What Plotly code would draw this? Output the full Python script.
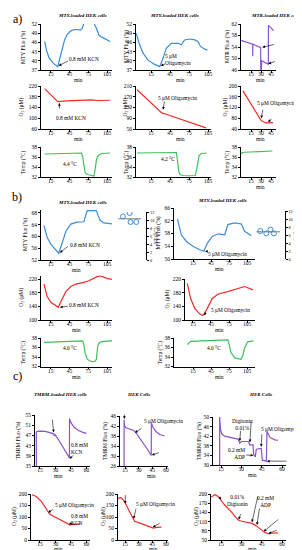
import plotly.graph_objects as go

# ===================== DATA =====================
X_TICKS_LONG = [15, 45, 75, 105]
X_TICKS_SHORT = [15, 30, 45]
X_TICKS_C = [15, 30, 45, 60]

# ---- a) row 1: fluorescence ----
A1_MIN = [5, 8, 12, 16, 20, 24, 26, 29, 33, 37, 41, 46, 52, 58, 63, 65, 68, 72, 78, 84, 88, 92, 96, 100, 105, 110]
A1_MTY = [46.3, 43.5, 41, 39.8, 39, 38.4, 38.1, 40.5, 44, 46.8, 48.5, 49.6, 50.2, 50.2, 50.1, 50.5, 52.2, 52.7, 52.6, 52.3, 50.6, 48.4, 47.8, 47.3, 46.8, 46.3]
A1_YT = [37, 40, 43, 46, 49, 52]

A2_MIN = [-8.5, -6, -3, 2.5, 10, 20, 28.7, 34, 39, 47, 57.6, 63, 68, 76, 84, 89, 93.5, 100, 104]
A2_MTY = [49, 47.2, 45.2, 42.5, 40.3, 38.9, 38.1, 40.8, 44.1, 45.7, 45.7, 45.2, 46.8, 47.1, 46.8, 46.3, 44.6, 43.8, 43.5]

A3_MIN = [0, 5, 10, 15, 17.5, 17.6, 17.7, 20, 25, 28.5, 29.5, 29.6, 30.5, 31, 35, 40, 41, 41.2, 44, 49]
A3_MTR = [56.3, 55.9, 55.5, 55.2, 55, 50.8, 55, 54.8, 54.4, 54, 53.8, 46, 46, 49.2, 48.6, 48.1, 48, 61.5, 60.8, 59.7]
A3_YT = [46, 50, 54, 58, 62]

# ---- a) row 2: O2 ----
A4_MIN = [5, 26, 40, 55, 65, 72, 80, 90, 100, 110]
A4_O2 = [210, 162, 165, 166, 167, 169, 168, 166, 167, 167]
A4_YT = [60, 100, 140, 180, 220]

A5_MIN = [-7, 5, 15, 25, 32, 40, 55, 70, 85, 102]
A5_O2 = [196, 170, 148, 126, 110, 104, 92, 80, 68, 54]
A5_YT = [50, 90, 130, 170, 210]

A6_MIN = [3, 15, 25, 30, 34, 38, 48]
A6_O2 = [182, 133, 92, 72, 66, 63, 64]
A6_YT = [40, 80, 120, 160, 200]

# ---- a) row 3: temperature ----
TEMP_YT = [32, 34, 36, 38]
A7_MIN = [5, 20, 40, 60, 64, 66, 68, 70, 74, 80, 84, 86, 88, 90, 93, 97, 103, 110]
A7_TEMP = [36.6, 36.65, 36.7, 36.75, 36.8, 36, 33.8, 32.8, 32.5, 32.3, 32.2, 33.5, 35.4, 36.1, 36.5, 36.7, 36.8, 36.8]
A8_MIN = [-7, 10, 30, 50, 55, 57, 59, 61, 65, 75, 85, 87, 89, 91, 94, 98, 103]
A8_TEMP = [36.8, 36.8, 36.85, 36.9, 36.9, 35, 33, 32.5, 32.3, 32.25, 32.3, 33.5, 35.5, 36.3, 36.7, 36.8, 36.8]
A9_MIN = [0, 2, 5, 15, 25, 35, 47]
A9_TEMP = [36.6, 36.9, 36.95, 37.0, 37.05, 37.1, 37.2]

# ---- b) ----
B1_MIN = [4, 9, 15.5, 23, 27.6, 33, 39, 47, 57, 68, 70, 73, 80, 88, 91, 94, 100, 113]
B1_MTY = [63.8, 59.7, 57.2, 55.4, 54.3, 57.7, 61.7, 64.2, 64.9, 65, 66.5, 68.7, 68.9, 68.7, 67, 65.5, 64.6, 64.3]
B1_YT = [52, 56, 60, 64, 68]
B2_MIN = [-11, -4.5, 4, 15, 26, 33, 39, 47, 57, 68, 73, 84.5, 95.5, 101, 112]
B2_MTY = [62.6, 57.6, 55.5, 54, 52.9, 52.4, 55, 57.1, 57.9, 57.6, 60.8, 61.3, 61, 58.7, 57.4]
B2_YT = [50, 54, 58, 62, 66]

DT_YT = [0, 2, 4, 6, 8, 10, 12]
B1_DT_X = [2.3, 4.5, 4.8, 6.7]
B1_DT = [10.9, 11.75, 9.5, 9.5]
B1_DT_MEAN_X = [0.7, 8.3]
B1_DT_MEAN = [10.3, 10.3]
B2_DT_X = [2.3, 5.5, 4.2, 6.6]
B2_DT = [7.0, 7.35, 6.4, 6.4]
B2_DT_MEAN_X = [1.1, 8.5]
B2_DT_MEAN = [6.8, 6.8]

B3_MIN = [4, 9, 15.5, 23, 27, 32, 39, 47, 55, 68, 76, 89, 94.5, 105, 113]
B3_O2 = [205, 168.5, 151, 141, 137, 157, 183, 198, 205, 210, 215, 227, 229, 222, 219]
B34_YT = [100, 140, 180, 220]
B4_MIN = [5.5, 11, 18, 26, 31.7, 39, 47, 57, 73, 90, 101, 115]
B4_O2 = [207, 163.5, 134, 118, 113, 134, 163, 176, 183, 193, 198, 188]

B5_MIN = [4, 20, 40, 60, 66, 68, 70, 73, 77, 82, 86, 88, 89, 90, 92, 95, 100, 113]
B5_TEMP = [37.1, 37.2, 37.3, 37.35, 37.4, 36.5, 34.8, 33.6, 33.2, 33.0, 33.1, 33.5, 34.8, 36.2, 36.9, 37.2, 37.3, 37.4]
B6_MIN = [5.5, 11, 30, 50, 73, 75, 78, 84.5, 95, 98, 101, 106, 116]
B6_TEMP = [36.6, 37.3, 37.4, 37.5, 37.6, 36.8, 35, 33.8, 33.5, 34.3, 35.9, 37.2, 37.4]

# ---- c) row 1: TMRM fluorescence ----
C1_MIN = [11.5, 11.5, 12.5, 15, 20, 25, 28, 28.8, 29.5, 33, 37, 41, 43.5, 43.6, 45, 48, 52, 56, 60]
C1_TMRM = [35, 48.3, 48.6, 48.7, 48.6, 48.1, 47.7, 46.9, 47.3, 45.3, 42.7, 40, 38.2, 53.5, 52, 50.2, 49, 48.3, 47.8]
C1_YT = [35, 39, 43, 47, 51, 55]
C2_MIN = [14, 14, 14.5, 16.4, 20, 24, 26, 30, 35, 40, 43.8, 43.9, 46, 49, 53, 58.5]
C2_TMRM = [26, 44.5, 42, 41.2, 40.8, 40.3, 39.8, 37.8, 35.4, 32.5, 30.2, 43.3, 41.3, 39.8, 38.6, 38]
C2_YT = [26, 30, 34, 38, 42, 46]
C3_MIN = [14, 14, 14.6, 15.5, 17.7, 22.6, 27.5, 28.8, 30, 35.4, 36.2, 38.6, 39.1, 40.3, 41, 44.7, 45.5, 48.4, 48.9, 50.9, 54.6, 57]
C3_TMRM = [30, 50, 45, 43, 42, 41.3, 40.8, 39.1, 39.8, 39.8, 38.4, 38.4, 34.4, 33.4, 36.6, 36.9, 32, 31.6, 44.1, 41.6, 40.5, 40.3]
C3_YT = [30, 34, 38, 42, 46, 50]

# ---- c) row 2: O2 ----
C4_MIN = [7.3, 11.4, 16.3, 21.1, 24.4, 27.6, 35, 42, 44, 48, 54]
C4_O2 = [197, 189, 168, 135, 113, 104, 86, 68, 66, 68, 70]
C45_YT = [0, 50, 100, 150, 200]
C5_MIN = [7.3, 9.5, 11, 14.6, 20, 25.6, 33, 40, 44, 46, 50, 55]
C5_O2 = [180, 184, 183, 166, 123, 81, 71, 62, 57, 52, 55, 56]
C6_MIN = [7.8, 10.5, 12.8, 17.7, 22.6, 27.5, 30, 35, 38, 41, 44, 47, 50, 52, 57]
C6_O2 = [190, 198, 192, 164, 142, 116, 111, 108, 104, 96, 84, 75, 70, 72, 73]
C6_YT = [50, 80, 110, 140, 170, 200]

# text labels: (panel, text, x, y[, align])
LABELS = [
    ('a1', '0.8 mM KCN', 68.7, 40.5), ('a2', '5 μM<br>Oligomycin', 57.6, 40.5, 'left'),
    ('a3', '5 μM<br>Oligomycin', 67.5, 56, 'left'), ('a3', '0.8 mM<br>KCN', 66.7, 49.9, 'left'),
    ('a4', '0.8 mM KCN', 46.6, 101), ('a5', '5 μM Oligomycin', 56.8, 164),
    ('a6', '5 μM Oligomycin', 52.5, 135), ('a6', '0.8 mM KCN', 60.7, 93),
    ('a7', '4.4 °C', 45, 34.6), ('a8', '4.2 °C', 41.8, 35.5),
    ('b1', '0.8 mM KCN', 70.2, 57.1), ('b2', '5 μM Oligomycin', 72.5, 51.6),
    ('b3', '0.8 mM KCN', 68.7, 144), ('b4', '5 μM Oligomycin', 76.7, 129),
    ('b5', '4.0 °C', 45, 35.9), ('b6', '4.0 °C', 50, 35.9),
    ('c1', '5 μM Oligomycin', 33.9, 55.3), ('c1', '0.8 mM<br>KCN', 53.7, 42, 'left'),
    ('c2', '200 nM TMRM', 29.3, 48.2), ('c2', '5 μM Oligomycin', 57.8, 43.9), ('c2', '0.8 mM<br>KCN', 62.7, 30.8, 'left'),
    ('c3', '200 nM TMRM', 26, 54.6), ('c3', 'Digitonin<br>0.01%', 31, 47.0), ('c3', '4 mM Succinate', 51.5, 50.4),
    ('c3', '5 μM Oligomycin', 59.2, 44.8), ('c3', '0.2 mM<br>ADP', 26.1, 34.9, 'right'), ('c3', '0.8 mM<br>KCN', 72.5, 31.8, 'left'),
    ('c4', '5 μM Oligomycin', 48.4, 152), ('c4', '0.8 mM<br>KCN', 53.7, 89, 'left'),
    ('c5', '200 nM TMRM', 29.3, 215.7), ('c5', '5 μM Oligomycin', 48, 154.5), ('c5', '0.8 mM<br>KCN', 65.5, 91.5, 'left'),
    ('c6', '200 nM TMRM', 24.6, 222), ('c6', '0.01%<br>Digitonin', 26.8, 177.6), ('c6', '4 mM Succinate', 51.9, 206),
    ('c6', '0.2 mM<br>ADP', 47.8, 174), ('c6', '5 μM<br>Oligomycin', 64.4, 133, 'left'), ('c6', '0.8 mM<br>KCN', 64.4, 94.5, 'left'),
]
# arrows: (panel, head_x, head_y, tail_x, tail_y)
ARROWS = [
    ('a1', 27.5, 38.4, 45, 40.2), ('a2', 30.5, 38.3, 39.2, 39.2),
    ('a3', 32, 53.9, 52, 55), ('a3', 41, 48.2, 53, 49.1),
    ('a4', 28.7, 157, 28.7, 131), ('a5', 34, 122, 36.6, 158),
    ('a6', 30.5, 80, 33, 117), ('a6', 40.5, 66, 48, 81),
    ('b1', 29.5, 54.5, 44.5, 57), ('b2', 35, 52.4, 41.7, 52.4),
    ('b3', 29.5, 137, 44.5, 141), ('b4', 33, 115, 38.8, 124),
    ('c1', 28.2, 48.2, 26.9, 53.8), ('c1', 43.8, 37.8, 48.6, 39.8),
    ('c2', 14.3, 44.8, 14.3, 47.2), ('c2', 26, 39.3, 34.8, 41.5), ('c2', 44.5, 30.4, 53.8, 31.5),
    ('c3', 14, 50.6, 14, 53.6), ('c3', 28.8, 40, 29.5, 44.8), ('c3', 36.3, 39.5, 37.3, 48.6),
    ('c3', 44.6, 37.6, 45.2, 43.4), ('c3', 38.8, 34, 32.5, 34.2), ('c3', 48.8, 31.6, 64.4, 31.6),
    ('c4', 23, 120, 29.2, 137), ('c4', 43, 68, 47.9, 77),
    ('c5', 15.3, 158, 15.3, 202), ('c5', 24.5, 92, 27.4, 142), ('c5', 45.5, 55, 54.6, 77),
    ('c6', 15, 182, 12.8, 196), ('c6', 28, 117, 29.9, 139), ('c6', 37.8, 108, 42.3, 196),
    ('c6', 41.5, 99, 43.5, 158), ('c6', 46.5, 78, 58.3, 121), ('c6', 50, 71, 57.1, 84),
]

# ===================== LAYOUT / STYLE =====================
W, H = 302, 550
FONT = 'Liberation Serif'
BLUE, RED, GREEN, PURPLE = '#3a8ddb', '#f42a2a', '#3cc15a', '#8b52c9'
O2 = 'O<sub>2</sub> (μM)'
TEMP = 'Temp (°C)'

fig = go.Figure()
layout = dict(width=W, height=H, margin=dict(l=0, r=0, t=0, b=0),
              paper_bgcolor='white', plot_bgcolor='white', showlegend=False,
              font=dict(family=FONT, size=5.5, color='black'))
annotations = []
AX = {}


def dom_x(x0, x1):
    return [x0 / W, x1 / W]


def dom_y(top, bot):
    return [1 - bot / H, 1 - top / H]


def names(n):
    return ('x' if n == 1 else f'x{n}'), ('y' if n == 1 else f'y{n}'), ('' if n == 1 else str(n))


def paper_text(text, px, py, size=5.5, angle=0):
    annotations.append(dict(xref='paper', yref='paper', x=px / W, y=1 - py / H, text=text,
                            showarrow=False, textangle=angle, xanchor='center', yanchor='middle',
                            borderpad=0, font=dict(family=FONT, size=size, color='black')))


COMMON = dict(showline=True, linecolor='black', linewidth=0.7, ticks='outside', ticklen=2,
              tickwidth=0.6, tickcolor='black', showgrid=False, zeroline=False, automargin=False,
              tickfont=dict(family=FONT, size=5.5, color='black'))


def panel(key, n, box, xr, yr, xt, yt, ylab, ylab_x, min_pos, series):
    xa, ya, s = names(n)
    AX[key] = (xa, ya)
    layout['xaxis' + s] = dict(COMMON, domain=dom_x(box[0], box[1]), range=xr, tickvals=xt, anchor=ya,
                               ticklabelstandoff=-3)
    layout['yaxis' + s] = dict(COMMON, domain=dom_y(box[2], box[3]), range=yr, tickvals=yt, anchor=xa)
    paper_text(ylab, ylab_x, (box[2] + box[3]) / 2, angle=-90)
    if min_pos is not None:
        paper_text('min', min_pos[0], box[3] + min_pos[1])
    for xs, ys, color in series:
        fig.add_trace(go.Scatter(x=xs, y=ys, xaxis=xa, yaxis=ya, mode='lines',
                                 line=dict(color=color, width=1.2), hoverinfo='skip'))


def inset(n, box, lab_x, px, pv, mx, mv):
    xa, ya, s = names(n)
    layout['xaxis' + s] = dict(domain=dom_x(box[0], box[1]), range=[0, 10], visible=False, anchor=ya)
    layout['yaxis' + s] = dict(COMMON, domain=dom_y(box[2], box[3]), range=[0, 12], tickvals=DT_YT, anchor=xa,
                               side='right', tickfont=dict(family=FONT, size=4.3))
    paper_text('ΔT (°C)', lab_x, (box[2] + box[3]) / 2, angle=-90)
    fig.add_trace(go.Scatter(x=mx, y=mv, xaxis=xa, yaxis=ya, mode='lines',
                             line=dict(color='#555555', width=0.8), hoverinfo='skip'))
    fig.add_trace(go.Scatter(x=px, y=pv, xaxis=xa, yaxis=ya, mode='markers',
                             marker=dict(symbol='circle-open', size=5, color=BLUE, line=dict(width=1)),
                             hoverinfo='skip'))


L_AB = [-0.8, 113]
M_A = [-8.7, 109.7]
R_A = [0, 52.5]
M_B = [-16.7, 118.3]
MTY = 'MTY Fluo (%)'
TMRM = 'TMRM Fluo (%)'

panel('a1', 1, (33, 104, 16, 62), L_AB, [37, 52], X_TICKS_LONG, A1_YT, MTY, 15, (70, 10), [(A1_MIN, A1_MTY, BLUE)])
panel('a2', 2, (128, 203, 16, 62), M_A, [37, 52], X_TICKS_LONG, A1_YT, MTY, 118, (172, 10), [(A2_MIN, A2_MTY, BLUE)])
panel('a3', 3, (233, 268, 16, 62), R_A, [46, 62], X_TICKS_SHORT, A3_YT, 'MTR Fluo (%)', 219, (253, 10), [(A3_MIN, A3_MTR, PURPLE)])
panel('a4', 4, (33, 104, 78, 121), L_AB, [60, 220], X_TICKS_LONG, A4_YT, O2, 13, (70, 10), [(A4_MIN, A4_O2, RED)])
panel('a5', 5, (128, 203, 78, 121), M_A, [50, 210], X_TICKS_LONG, A5_YT, O2, 117, (172, 10), [(A5_MIN, A5_O2, RED)])
panel('a6', 6, (233, 268, 78, 121), R_A, [40, 200], X_TICKS_SHORT, A6_YT, O2, 217, (253, 10), [(A6_MIN, A6_O2, RED)])
panel('a7', 7, (33, 104, 139, 169), L_AB, [32, 38], X_TICKS_LONG, TEMP_YT, TEMP, 15, None, [(A7_MIN, A7_TEMP, GREEN)])
panel('a8', 8, (128, 203, 139, 169), M_A, [32, 38], X_TICKS_LONG, TEMP_YT, TEMP, 118, None, [(A8_MIN, A8_TEMP, GREEN)])
panel('a9', 9, (233, 268, 139, 169), R_A, [32, 38], X_TICKS_SHORT, TEMP_YT, TEMP, 219, (253, 10), [(A9_MIN, A9_TEMP, GREEN)])
panel('b1', 10, (33, 104, 202, 252), L_AB, [52, 69], X_TICKS_LONG, B1_YT, MTY, 17, (68, 10), [(B1_MIN, B1_MTY, BLUE)])
panel('b2', 11, (166, 247, 200, 251), M_B, [50, 66], X_TICKS_LONG, B2_YT, MTY, 150, (211, 10), [(B2_MIN, B2_MTY, BLUE)])
panel('b3', 12, (33, 104, 267.6, 312), L_AB, [100, 230], X_TICKS_LONG, B34_YT, O2, 14, (68, 10), [(B3_MIN, B3_O2, RED)])
panel('b4', 13, (177, 247, 271, 312), [1.7, 118.3], [100, 220], X_TICKS_LONG, B34_YT, O2, 159, (211, 10), [(B4_MIN, B4_O2, RED)])
panel('b5', 14, (33, 104, 330, 358.5), L_AB, [32, 38], X_TICKS_LONG, TEMP_YT, TEMP, 15, (68, 10), [(B5_MIN, B5_TEMP, GREEN)])
panel('b6', 15, (166, 247, 330, 358.5), M_B, [32, 38], X_TICKS_LONG, TEMP_YT, TEMP, 152, (211, 10), [(B6_MIN, B6_TEMP, GREEN)])
panel('c1', 16, (27, 82, 407, 458), [10.2, 63.4], [35, 55], X_TICKS_C, C1_YT, TMRM, 10, (50, 10), [(C1_MIN, C1_TMRM, PURPLE)])
panel('c2', 17, (112, 160, 408, 458), [9.5, 62.2], [26, 46], X_TICKS_C, C2_YT, TMRM, 97, (143, 10), [(C2_MIN, C2_TMRM, PURPLE)])
panel('c3', 18, (205, 278, 409, 457), [9.1, 62.9], [30, 50], X_TICKS_C, C3_YT, TMRM, 191, (244, 10), [(C3_MIN, C3_TMRM, PURPLE)])
panel('c4', 19, (23, 82, 486, 532), [6.3, 63.4], [0, 200], X_TICKS_C, C45_YT, O2, 6, (50, 9), [(C4_MIN, C4_O2, RED)])
panel('c5', 20, (110, 160, 486, 532), [7.3, 62.2], [0, 200], X_TICKS_C, C45_YT, O2, 95, (145, 9), [(C5_MIN, C5_O2, RED)])
panel('c6', 21, (203, 278, 486, 532), [7.6, 62.9], [50, 200], X_TICKS_C, C6_YT, O2, 188, (244, 9), [(C6_MIN, C6_O2, RED)])
inset(22, (108, 138.3, 204, 252), 148, B1_DT_X, B1_DT, B1_DT_MEAN_X, B1_DT_MEAN)
inset(23, (245, 276.7, 203, 251), 288, B2_DT_X, B2_DT, B2_DT_MEAN_X, B2_DT_MEAN)

for item in LABELS:
    key, text, x, y = item[:4]
    align = item[4] if len(item) > 4 else 'center'
    xa, ya = AX[key]
    annotations.append(dict(xref=xa, yref=ya, x=x, y=y, text=text, showarrow=False, align=align,
                            font=dict(family=FONT, size=5.4, color='black')))
for key, hx, hy, tx, ty in ARROWS:
    xa, ya = AX[key]
    annotations.append(dict(xref=xa, yref=ya, x=hx, y=hy, ax=tx, ay=ty, axref=xa, ayref=ya, text='',
                            showarrow=True, arrowhead=2, arrowsize=0.9, arrowwidth=0.6, arrowcolor='black'))

TITLES = [
    ('<b><i>MTY-loaded HEK cells</i></b>', 74, 7.5), ('<b><i>MTY-loaded HEK cells</i></b>', 166, 7.5),
    ('<b><i>MTR-loaded HEK cells</i></b>', 267, 7.5),
    ('<b><i>MTY-loaded HEK cells</i></b>', 74, 194), ('<b><i>MTY-loaded HEK cells</i></b>', 214, 193),
    ('<b><i>TMRM-loaded HEK cells</i></b>', 52.5, 386.7), ('<b><i>HEK Cells</i></b>', 130.5, 386.7),
    ('<b><i>HEK Cells</i></b>', 253, 386.7),
]
for text, px, py in TITLES:
    paper_text(text, px, py, size=5)
for text, px, py in [('a)', 9, 11), ('b)', 9, 189), ('c)', 9, 368)]:
    paper_text(text, px, py, size=12)

layout['annotations'] = annotations
try:
    fig.update_layout(**layout)
except ValueError:
    for k, v in layout.items():
        if k.startswith('xaxis') and 'ticklabelstandoff' in v:
            v.pop('ticklabelstandoff')
    fig = go.Figure(data=fig.data)
    fig.update_layout(**layout)
fig.write_html('out.html')
